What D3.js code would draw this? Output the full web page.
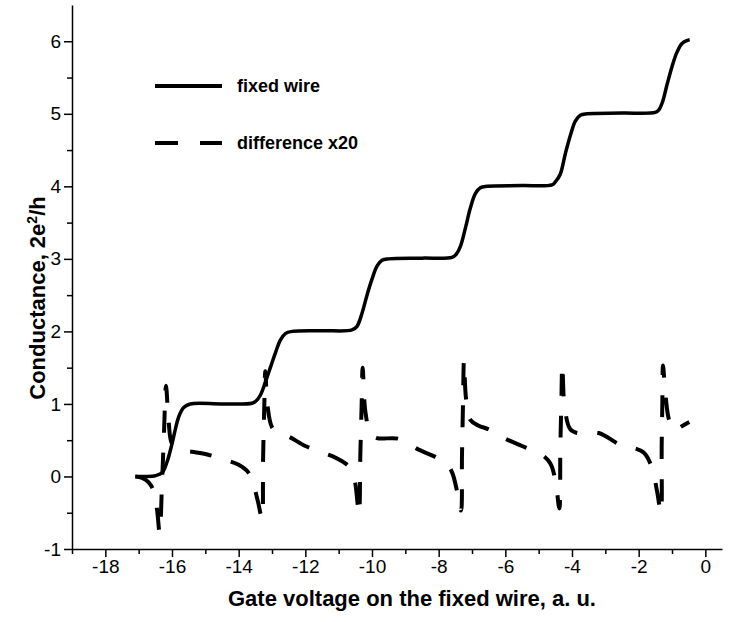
<!DOCTYPE html>
<html>
<head>
<meta charset="utf-8">
<script src="https://cdn.jsdelivr.net/npm/d3@7"></script>
<style>
  body { margin: 0; background: #fff; }
  text { font-family: "Liberation Sans", Arial, sans-serif; }
</style>
</head>
<body>
<div id="chart"></div>
<script>
const svgWidth = 733;
const svgHeight = 622;

const margin = { top: 5, right: 11, bottom: 73, left: 72 };
const chartWidth = svgWidth - margin.left - margin.right;
const chartHeight = svgHeight - margin.top - margin.bottom;

// ---- data ----
// fixed wire conductance (units of 2e^2/h)
const fixedX = [-17.1, -16.8, -16.5, -16.3, -16.15, -16.0, -15.9, -15.8, -15.65, -15.45,
  -14.5, -13.6, -13.48, -13.35, -13.2, -13.05, -12.9, -12.75, -12.6, -12.4,
  -11.5, -10.6, -10.45, -10.3, -10.15, -10.0, -9.85, -9.7, -9.5,
  -8.5, -7.6, -7.48, -7.35, -7.2, -7.05, -6.9, -6.75, -6.55,
  -5.5, -4.6, -4.5, -4.35, -4.2, -4.05, -3.9, -3.75, -3.55,
  -2.5, -1.5, -1.4, -1.28, -1.15, -1.0, -0.85, -0.7, -0.55, -0.47];
const fixedY = [0.0, 0.0, 0.01, 0.05, 0.2, 0.45, 0.65, 0.82, 0.95, 1.0,
  1.0, 1.01, 1.04, 1.12, 1.3, 1.5, 1.7, 1.88, 1.97, 2.0,
  2.01, 2.02, 2.07, 2.25, 2.5, 2.72, 2.9, 2.98, 3.0,
  3.01, 3.02, 3.06, 3.17, 3.42, 3.7, 3.9, 3.98, 4.0,
  4.01, 4.02, 4.06, 4.17, 4.45, 4.7, 4.9, 4.98, 5.0,
  5.01, 5.02, 5.05, 5.17, 5.4, 5.65, 5.85, 5.97, 6.01, 6.02];

// difference x20
const diffX = [-17.1, -16.9, -16.7, -16.55, -16.45, -16.37, -16.3, -16.24, -16.18, -16.1, -16.0, -15.8,
  -15.4, -15.0, -14.5, -14.0, -13.7, -13.55, -13.42, -13.3, -13.27, -13.23, -13.2, -13.14, -13.0,
  -12.8, -12.5, -12.0, -11.5, -11.1, -10.8, -10.6, -10.5, -10.39, -10.35, -10.31, -10.28, -10.2, -10.05,
  -9.85, -9.2, -8.6, -8.1, -7.8, -7.6, -7.45, -7.33, -7.3, -7.27, -7.24, -7.18, -7.05,
  -6.8, -6.5, -6.0, -5.5, -5.2, -4.9, -4.65, -4.5, -4.38, -4.35, -4.32, -4.29, -4.22, -4.05,
  -3.85, -3.2, -2.6, -2.2, -1.85, -1.6, -1.45, -1.33, -1.31, -1.29, -1.27, -1.2, -1.1,
  -1.0, -0.9, -0.75, -0.6, -0.48];
const diffY = [0.0, -0.02, -0.08, -0.2, -0.45, -0.78, -0.1, 0.6, 1.25, 0.75, 0.45, 0.37,
  0.34, 0.31, 0.24, 0.16, 0.05, -0.12, -0.35, -0.58, 0.2, 1.0, 1.45, 1.0, 0.68,
  0.6, 0.55, 0.42, 0.33, 0.26, 0.18, 0.08, -0.1, -0.52, 0.3, 1.0, 1.5, 0.9, 0.6,
  0.53, 0.52, 0.37, 0.27, 0.2, 0.06, -0.2, -0.47, 0.3, 1.0, 1.6, 1.08, 0.78,
  0.7, 0.65, 0.52, 0.42, 0.36, 0.3, 0.18, -0.05, -0.44, 0.4, 1.0, 1.55, 0.95, 0.65,
  0.6, 0.6, 0.45, 0.4, 0.33, 0.12, -0.2, -0.5, 0.4, 1.0, 1.53, 1.15, 0.8,
  0.7, 0.63, 0.68, 0.72, 0.75];

const xMajorTicks = [-18, -16, -14, -12, -10, -8, -6, -4, -2, 0];
const xMinorTicks = [-19, -17, -15, -13, -11, -9, -7, -5, -3, -1];
const yMajorTicks = [-1, 0, 1, 2, 3, 4, 5, 6];
const yMinorTicks = [-0.5, 0.5, 1.5, 2.5, 3.5, 4.5, 5.5];

const legendLabels = ["fixed wire", "difference x20"];

var svg = d3.select("#chart")
    .append("svg")
    .attr("width", svgWidth)
    .attr("height", svgHeight);

var chartGroup = svg.append("g")
    .attr("transform", `translate(${margin.left}, ${margin.top})`);

var xScale = d3.scaleLinear().domain([-19, 0.5]).range([0, chartWidth]);
var yScale = d3.scaleLinear().domain([-1, 6.5]).range([chartHeight, 0]);

// plain hyphen for negative labels, as in the original
var plainFormat = d => String(d);

// minor ticks first, then major axis on top
chartGroup.append("g")
    .attr("transform", `translate(0, ${chartHeight})`)
    .call(d3.axisBottom(xScale).tickValues(xMinorTicks).tickSize(5).tickSizeOuter(0).tickFormat(""))
    .call(g => g.select(".domain").remove())
    .selectAll("line").attr("stroke-width", 1.5);

chartGroup.append("g")
    .call(d3.axisLeft(yScale).tickValues(yMinorTicks).tickSize(5).tickSizeOuter(0).tickFormat(""))
    .call(g => g.select(".domain").remove())
    .selectAll("line").attr("stroke-width", 1.5);

var xAxis = chartGroup.append("g")
    .attr("transform", `translate(0, ${chartHeight})`)
    .call(d3.axisBottom(xScale).tickValues(xMajorTicks).tickSize(8).tickSizeOuter(0).tickPadding(3)
        .tickFormat(plainFormat));
xAxis.select(".domain").attr("stroke-width", 1.5);
xAxis.selectAll(".tick line").attr("stroke-width", 1.5);
xAxis.selectAll("text").attr("font-size", 19).attr("fill", "#000");

var yAxis = chartGroup.append("g")
    .call(d3.axisLeft(yScale).tickValues(yMajorTicks).tickSize(8).tickSizeOuter(0).tickPadding(3)
        .tickFormat(plainFormat));
yAxis.select(".domain").attr("stroke-width", 1.5);
yAxis.selectAll(".tick line").attr("stroke-width", 1.5);
yAxis.selectAll("text").attr("font-size", 19).attr("fill", "#000");

// axis titles
svg.append("text")
    .attr("x", 412)
    .attr("y", 606)
    .attr("text-anchor", "middle")
    .attr("font-size", 22)
    .attr("font-weight", "bold")
    .text("Gate voltage on the fixed wire, a. u.");

var yTitle = svg.append("text")
    .attr("transform", `translate(45, 298) rotate(-90)`)
    .attr("text-anchor", "middle")
    .attr("font-size", 22)
    .attr("font-weight", "bold");
yTitle.append("tspan").text("Conductance, 2e");
yTitle.append("tspan").attr("font-size", 14).attr("dy", -8).text("2");
yTitle.append("tspan").attr("dy", 8).text("/h");

// curves
var fixedData = fixedX.map((x, i) => ({ x: x, y: fixedY[i] }));
var diffData = diffX.map((x, i) => ({ x: x, y: diffY[i] }));

var line = d3.line()
    .x(d => xScale(d.x))
    .y(d => yScale(d.y))
    .curve(d3.curveCatmullRom.alpha(0.5));

chartGroup.append("path")
    .datum(diffData)
    .attr("d", line)
    .attr("fill", "none")
    .attr("stroke", "#000")
    .attr("stroke-width", 4)
    .attr("stroke-dasharray", "22,20");

chartGroup.append("path")
    .datum(fixedData)
    .attr("d", line)
    .attr("fill", "none")
    .attr("stroke", "#000")
    .attr("stroke-width", 3.5);

// legend
var legend = svg.append("g");
[0, 1].forEach(i => {
    var ly = 86 + i * 57;
    legend.append("line")
        .attr("x1", 155).attr("x2", 222)
        .attr("y1", ly).attr("y2", ly)
        .attr("stroke", "#000")
        .attr("stroke-width", 4)
        .attr("stroke-dasharray", i === 1 ? "23,22" : null);
    legend.append("text")
        .attr("x", 237)
        .attr("y", ly + 6)
        .attr("font-size", 18)
        .attr("font-weight", "bold")
        .text(legendLabels[i]);
});
</script>
</body>
</html>
